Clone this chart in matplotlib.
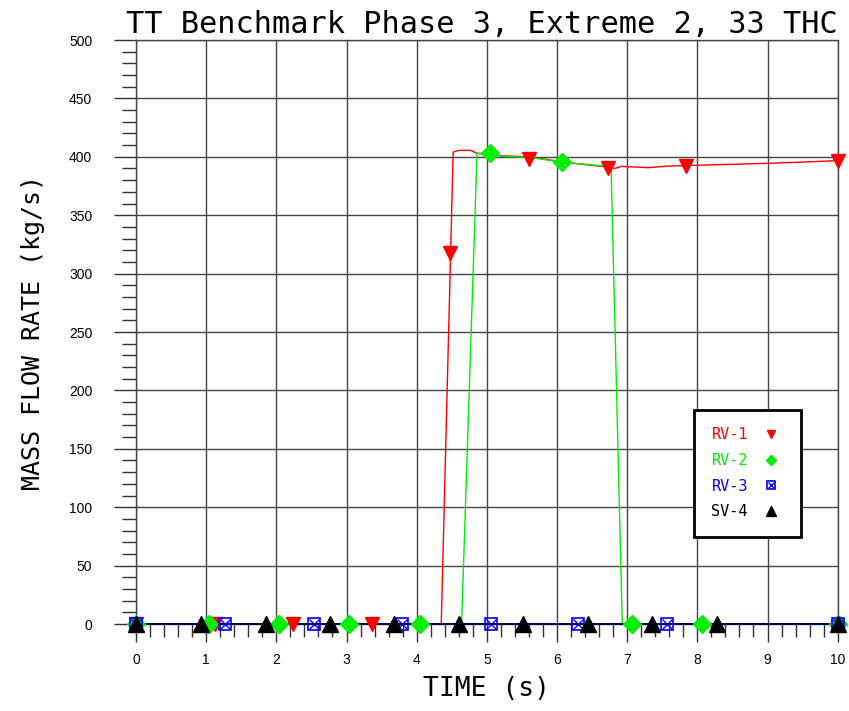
import numpy as np
import matplotlib
matplotlib.use("Agg")
from matplotlib import pyplot as plt
from matplotlib.ticker import MultipleLocator
from matplotlib.legend_handler import HandlerTuple

# RV-1 (red) flow trace
rv1_t = [0.0, 4.35, 4.52, 4.6, 4.77, 4.86, 5.04, 5.6, 5.83, 6.07, 6.6, 6.78, 6.82, 6.92, 7.3, 7.57, 8.0, 8.51, 8.99, 9.5, 10.0]
rv1_q = [0.0, 0.0, 404.0, 405.5, 405.5, 403.0, 401.5, 399.8, 398.0, 395.5, 392.0, 391.0, 390.0, 391.8, 390.7, 392.0, 392.8, 393.6, 394.4, 395.5, 396.7]
# RV-2 (green) flow trace
rv2_t = [0.0, 4.64, 4.86, 5.04, 5.2, 5.6, 6.07, 6.5, 6.77, 6.93, 10.0]
rv2_q = [0.0, 0.0, 403.0, 403.0, 400.5, 399.5, 395.5, 393.0, 391.5, 0.0, 0.0]
# RV-3 and SV-4 stay at zero
rv3_t = [0.0, 10.0]
rv3_q = [0.0, 0.0]
sv4_t = [0.0, 10.0]
sv4_q = [0.0, 0.0]

# marker positions
rv1_mt = [0.0, 1.12, 2.24, 3.36, 4.47, 5.6, 6.72, 7.84, 10.0]
rv1_mq = [0.0, 0.0, 0.0, 0.0, 318.0, 398.0, 390.0, 392.0, 396.5]
rv2_mt = [0.0, 1.04, 2.04, 3.04, 4.05, 5.04, 6.07, 7.07, 8.07, 10.0]
rv2_mq = [0.0, 0.0, 0.0, 0.0, 0.0, 403.0, 395.5, 0.0, 0.0, 0.0]
rv3_mt = [0.0, 1.27, 2.54, 3.79, 5.06, 6.30, 7.57, 10.0]
rv3_mq = [0.0] * 8
sv4_mt = [0.0, 0.92, 1.85, 2.77, 3.68, 4.60, 5.52, 6.44, 7.36, 8.28, 10.0]
sv4_mq = [0.0] * 11

stroke = "DejaVu Sans Mono"
fig = plt.figure(figsize=(8.49, 7.11), dpi=100)
ax = fig.add_axes([136 / 849, 1 - 624 / 711, 701.7 / 849, 584 / 711])

ax.plot(rv1_t, rv1_q, color="#ff0000", lw=1.0, clip_on=False, zorder=3)
ax.plot(rv2_t, rv2_q, color="#00ee00", lw=1.0, clip_on=False, zorder=3)
ax.plot(rv3_t, rv3_q, color="#0000ff", lw=1.2, clip_on=False, zorder=3)
ax.plot(sv4_t, sv4_q, color="#000033", lw=1.2, clip_on=False, zorder=3)

h1, = ax.plot(rv1_mt, rv1_mq, ls="none", marker="v", ms=10, color="#ff0000", clip_on=False, zorder=4)
h2, = ax.plot(rv2_mt, rv2_mq, ls="none", marker="D", ms=9, color="#00ee00", clip_on=False, zorder=4)
h3a, = ax.plot(rv3_mt, rv3_mq, ls="none", marker="s", ms=9, mfc="none", mec="#0000ff", mew=1.2, clip_on=False, zorder=4)
h3b, = ax.plot(rv3_mt, rv3_mq, ls="none", marker="x", ms=7, mec="#0000ff", mew=1.0, clip_on=False, zorder=4)
h4, = ax.plot(sv4_mt, sv4_mq, ls="none", marker="^", ms=11, color="black", clip_on=False, zorder=5)

ax.set_xlim(0, 10)
ax.set_ylim(0, 500)
ax.xaxis.set_major_locator(MultipleLocator(1))
ax.xaxis.set_minor_locator(MultipleLocator(0.2))
ax.yaxis.set_major_locator(MultipleLocator(50))
ax.yaxis.set_minor_locator(MultipleLocator(10))
ax.tick_params(which="major", direction="out", length=13, width=1, color="#333333", labelsize=10, pad=8)
ax.tick_params(which="minor", direction="out", length=9, width=1, color="#333333")
ax.tick_params(axis="y", which="major", length=16, pad=15.5)
ax.tick_params(axis="y", which="minor", length=10)
for lab in ax.get_xticklabels() + ax.get_yticklabels():
    lab.set_fontfamily("Liberation Sans")
ax.grid(True, which="major", color="#444444", lw=1.0)
for s in ax.spines.values():
    s.set_color("#444444")
    s.set_linewidth(1.0)

ax.set_title("TT Benchmark Phase 3, Extreme 2, 33 THC", family=stroke, fontsize=21.8,
             loc="right", pad=5, x=1.0)
ax.set_xlabel("TIME (s)", family=stroke, fontsize=19, labelpad=6)
ax.set_ylabel("MASS FLOW RATE (kg/s)", family=stroke, fontsize=18, labelpad=17)

leg = ax.legend([h1, h2, (h3a, h3b), h4], ["RV-1", "RV-2", "RV-3", "SV-4"],
                handler_map={tuple: HandlerTuple(ndivide=1, pad=0)},
                loc="lower left", bbox_to_anchor=(0.795, 0.149, 0.153, 0.204), mode="expand",
                borderaxespad=0, markerfirst=False, handlelength=1.0, handletextpad=1.0,
                markerscale=0.6, fancybox=False, framealpha=1, edgecolor="black",
                borderpad=1.15, labelspacing=0.7, prop={"family": stroke, "size": 11})
leg.get_frame().set_linewidth(2)
for txt, c in zip(leg.get_texts(), ["#ff0000", "#00ee00", "#0000ff", "black"]):
    txt.set_color(c)

fig.savefig("out.png", dpi=100)
